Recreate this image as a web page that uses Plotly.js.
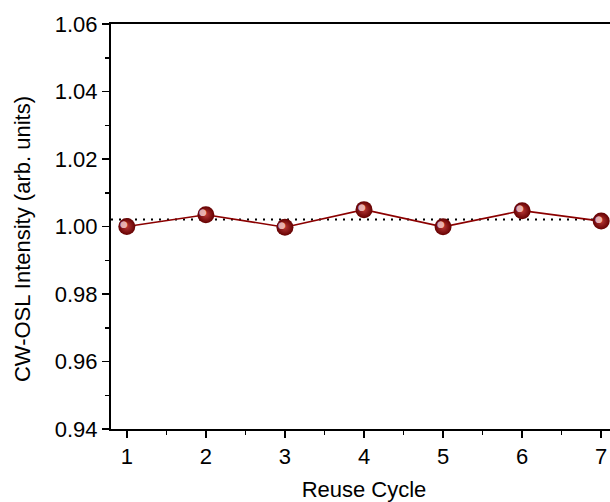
<!DOCTYPE html>
<html>
<head>
<meta charset="utf-8">
<script src="https://cdn.plot.ly/plotly-3.0.1.min.js"></script>
<style>
  html, body { margin: 0; padding: 0; overflow: hidden; background: #fff; }
  #chart { width: 630px; height: 502px; }
</style>
</head>
<body>
<div id="chart"></div>
<script>
// Reuse cycles and normalised CW-OSL intensity per cycle
const cycles = [1, 2, 3, 4, 5, 6, 7];
const intensity = [1.0000, 1.0035, 0.9998, 1.0050, 0.9999, 1.0047, 1.0016];
const xTicks = [1, 2, 3, 4, 5, 6, 7];
const yTicks = [0.94, 0.96, 0.98, 1.00, 1.02, 1.04, 1.06];
const yTickText = ['0.94', '0.96', '0.98', '1.00', '1.02', '1.04', '1.06'];

const meanIntensity = intensity.reduce((a, b) => a + b, 0) / intensity.length;

const font = 'Liberation Sans, Arial, sans-serif';

const series = {
  x: cycles,
  y: intensity,
  mode: 'lines+markers',
  line: { color: '#8b0000', width: 1.6 },
  marker: {
    size: 17,
    color: '#640000',
    gradient: { type: 'radial', color: '#b83838' },
    line: { width: 0 }
  },
  hoverinfo: 'x+y',
  showlegend: false
};

// small specular highlight on each sphere
const highlights = cycles.map((c, i) => ({
  x: c, y: intensity[i], xref: 'x', yref: 'y',
  text: '●', showarrow: false,
  xshift: -2.5, yshift: 2.5,
  font: { size: 9, color: 'rgba(255,215,215,0.8)', family: 'DejaVu Sans' }
}));

const layout = {
  width: 630,
  height: 502,
  margin: { l: 111, r: 13, t: 24, b: 73 },
  paper_bgcolor: '#fff',
  plot_bgcolor: '#fff',
  font: { family: font, size: 22, color: '#000' },
  xaxis: {
    range: [0.8, 7.2],
    tickvals: xTicks,
    ticks: 'outside', ticklen: 7, tickwidth: 1.5, tickcolor: '#000',
    minor: { dtick: 0.5, tick0: 0.5, ticks: 'outside', ticklen: 4, tickwidth: 1.5, tickcolor: '#000', showgrid: false },
    showline: true, linecolor: '#000', linewidth: 2, mirror: true,
    showgrid: false, zeroline: false,
    tickfont: { size: 22, family: font, color: '#000' },
    title: { text: 'Reuse Cycle', font: { size: 22, family: font, color: '#000' }, standoff: 20 }
  },
  yaxis: {
    range: [0.94, 1.06],
    tickvals: yTicks,
    ticktext: yTickText,
    ticks: 'outside', ticklen: 7, tickwidth: 1.5, tickcolor: '#000',
    minor: { dtick: 0.01, tick0: 0.95, ticks: 'outside', ticklen: 4, tickwidth: 1.5, tickcolor: '#000', showgrid: false },
    showline: true, linecolor: '#000', linewidth: 2, mirror: true,
    showgrid: false, zeroline: false,
    tickfont: { size: 22, family: font, color: '#000' }
  },
  shapes: [{
    type: 'line', xref: 'paper', yref: 'y',
    x0: 0, x1: 1, y0: meanIntensity, y1: meanIntensity,
    line: { color: '#000', width: 2, dash: '2px,6px' },
    layer: 'below'
  }],
  annotations: highlights.concat([{
    xref: 'paper', yref: 'paper', x: -0.175, y: 0.47,
    xanchor: 'center', yanchor: 'middle',
    text: 'CW-OSL Intensity (arb. units)', textangle: -90, showarrow: false,
    font: { size: 22, family: font, color: '#000' }
  }])
};

Plotly.newPlot('chart', [series], layout, { displayModeBar: false, staticPlot: true });
</script>
</body>
</html>
